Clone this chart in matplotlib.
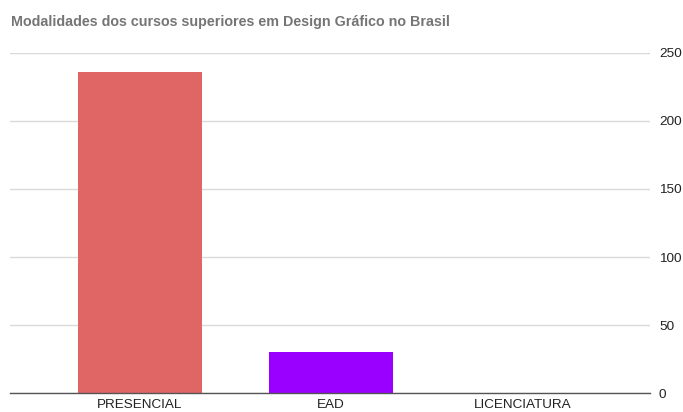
import matplotlib
matplotlib.use("Agg")
import matplotlib.pyplot as plt

plt.rcParams['font.family'] = ['Liberation Sans', 'DejaVu Sans']

# data
categories = ['PRESENCIAL', 'EAD', 'LICENCIATURA']
counts = [236, 30, 0]
bar_colors = ['#e06666', '#9900ff', '#4285f4']
yticks = [0, 50, 100, 150, 200, 250]

fig = plt.figure(figsize=(6.83, 4.12), dpi=100)
ax = fig.add_axes([0.0146, 0.0454, 0.937, 0.8267])

x = list(range(len(categories)))
ax.bar(x, counts, width=0.648, color=bar_colors, zorder=3)

ax.set_xlim(-0.678, 2.667)
ax.set_ylim(0, 250)
ax.set_yticks(yticks)
ax.yaxis.tick_right()
ax.tick_params(axis='y', length=0, pad=6.5, labelsize=9.7, labelcolor='#222222')
ax.set_xticks(x)
ax.set_xticklabels(categories)
# reference crops these labels at the bottom edge; keep them just inside
ax.tick_params(axis='x', length=0, pad=4, labelsize=9.7, labelcolor='#222222')

ax.grid(axis='y', color='#d9d9d9', linewidth=1, zorder=0)
for s in ['top', 'left', 'right']:
    ax.spines[s].set_visible(False)
ax.spines['bottom'].set_color('#555555')
ax.spines['bottom'].set_linewidth(1)
ax.spines['bottom'].set_zorder(4)

fig.text(11 / 683, 1 - 22 / 412, 'Modalidades dos cursos superiores em Design Gráfico no Brasil',
         fontsize=10.3, fontweight='bold', color='#757575', ha='left', va='center')

fig.savefig('out.png', dpi=100)
